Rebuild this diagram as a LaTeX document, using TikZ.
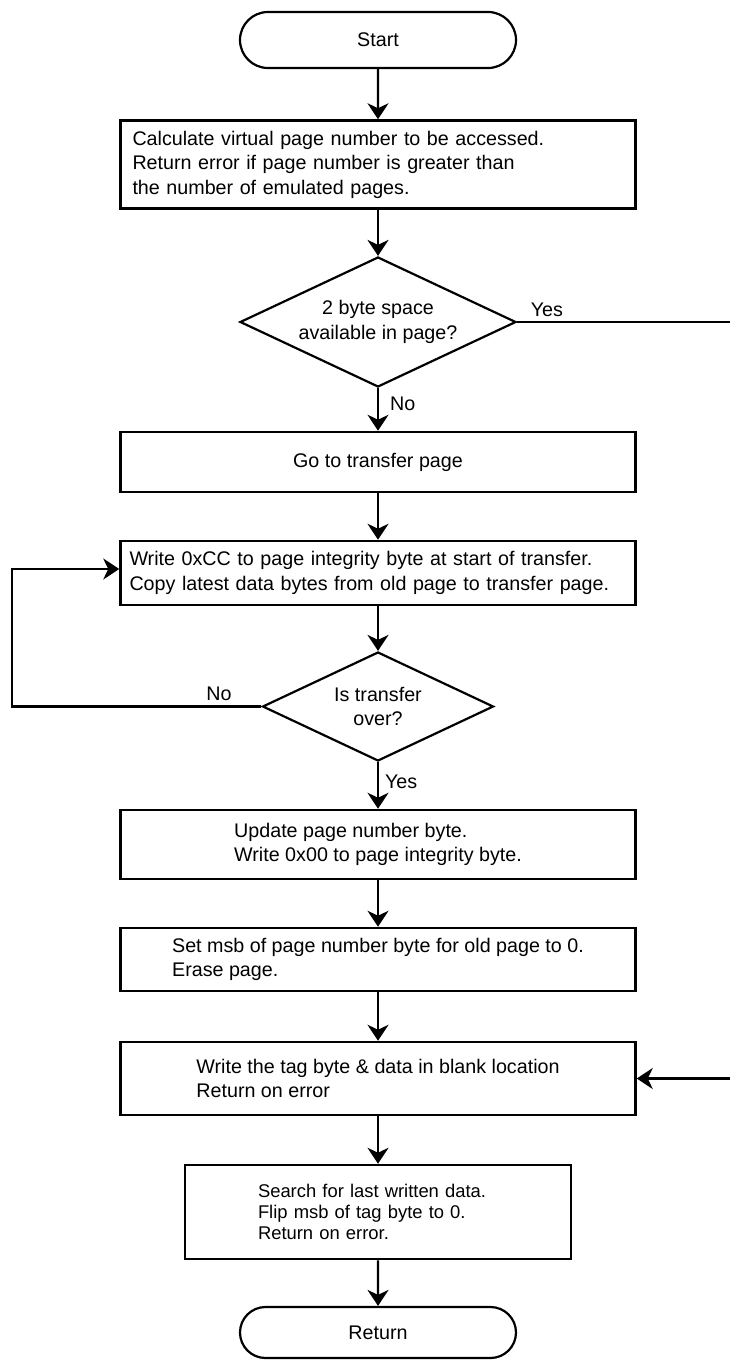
\documentclass[tikz,border=0pt]{standalone}
\usepackage{fontspec}
\setmainfont{Liberation Sans}
\usetikzlibrary{shapes.geometric,shapes.misc,arrows.meta}
\begin{document}
\begin{tikzpicture}[x=1pt,y=-1pt,
  every node/.style={font=\fontsize{19.7}{24.5}\selectfont},
  box/.style={draw, line width=2.5pt, rectangle, minimum width=515pt, inner sep=0pt, align=left},
  term/.style={draw, line width=2.2pt, rounded rectangle, minimum width=276pt, minimum height=56pt, inner sep=0pt},
  dec/.style={draw, line width=2.2pt, diamond, aspect=2.1, inner sep=0pt, align=center},
  conn/.style={line width=2.2pt},
  arr/.style={conn, -{Stealth[length=16pt,width=21pt,inset=5pt]}},
  lbl/.style={inner sep=0pt}
]
\useasboundingbox (0,0) rectangle (730,1360);

\node[term] (start) at (378,40) {Start};
\node[box, minimum height=88pt, text width=491pt, inner xsep=12pt] (b1) at (378,164.5)
  {Calculate virtual page number to be accessed.\\Return error if page number is greater than\\the number of emulated pages.};
\node[dec, minimum width=276pt, minimum height=130pt] (d1) at (378,322)
  {2 byte space\\available in page?};
\node[box, minimum height=60pt] (b2) at (378,462) {Go to transfer page};
\node[box, minimum height=64pt, text width=497pt, inner xsep=9pt] (b3) at (378,573)
  {Write 0xCC to page integrity byte at start of transfer.\\Copy latest data bytes from old page to transfer page.};
\node[dec, minimum width=231pt, minimum height=109pt] (d2) at (378,706.5)
  {Is transfer\\over?};
\node[box, minimum height=69pt] (b4) at (378,844.5)
  {Update page number byte.\\Write 0x00 to page integrity byte.};
\node[box, minimum height=63pt] (b5) at (378,959.5)
  {Set msb of page number byte for old page to 0.\\Erase page.};
\node[box, minimum height=73pt] (b6) at (378,1078.5)
  {Write the tag byte \& data in blank location\\Return on error};
\node[box, minimum width=386pt, minimum height=94pt, text width=240pt, inner xsep=73pt, font=\fontsize{18.4}{21}\selectfont] (b7) at (378,1212)
  {Search for last written data.\\Flip msb of tag byte to 0.\\Return on error.};
\node[term, minimum height=51pt] (ret) at (378,1332.5) {Return};

\coordinate (r1) at (730,322);
\coordinate (r2) at (730,1078.5);
\coordinate (l1) at (12,706.5);
\coordinate (l2) at (12,569);

\draw[arr] (start) -- (b1);
\draw[arr] (b1) -- (d1);
\draw[arr] (d1) -- node[lbl, pos=0.38, anchor=west, xshift=11pt] {No} (b2);
\draw[arr] (b2) -- (b3);
\draw[arr] (b3) -- (d2);
\draw[arr] (d2) -- node[lbl, pos=0.43, anchor=west, xshift=6pt] {Yes} (b4);
\draw[arr] (b4) -- (b5);
\draw[arr] (b5) -- (b6);
\draw[arr] (b6) -- (b7);
\draw[arr] (b7) -- (ret);
\draw[conn] (d1.east) -- node[lbl, pos=0.14, anchor=south, yshift=4pt] {Yes} (r1);
\draw[arr] (r2) -- (b6.east);
\draw[arr] (d2.west) -- node[lbl, pos=0.17, anchor=south, yshift=5pt] {No} (l1) -- (l2) -- (l2 -| b3.west);
\end{tikzpicture}
\end{document}
